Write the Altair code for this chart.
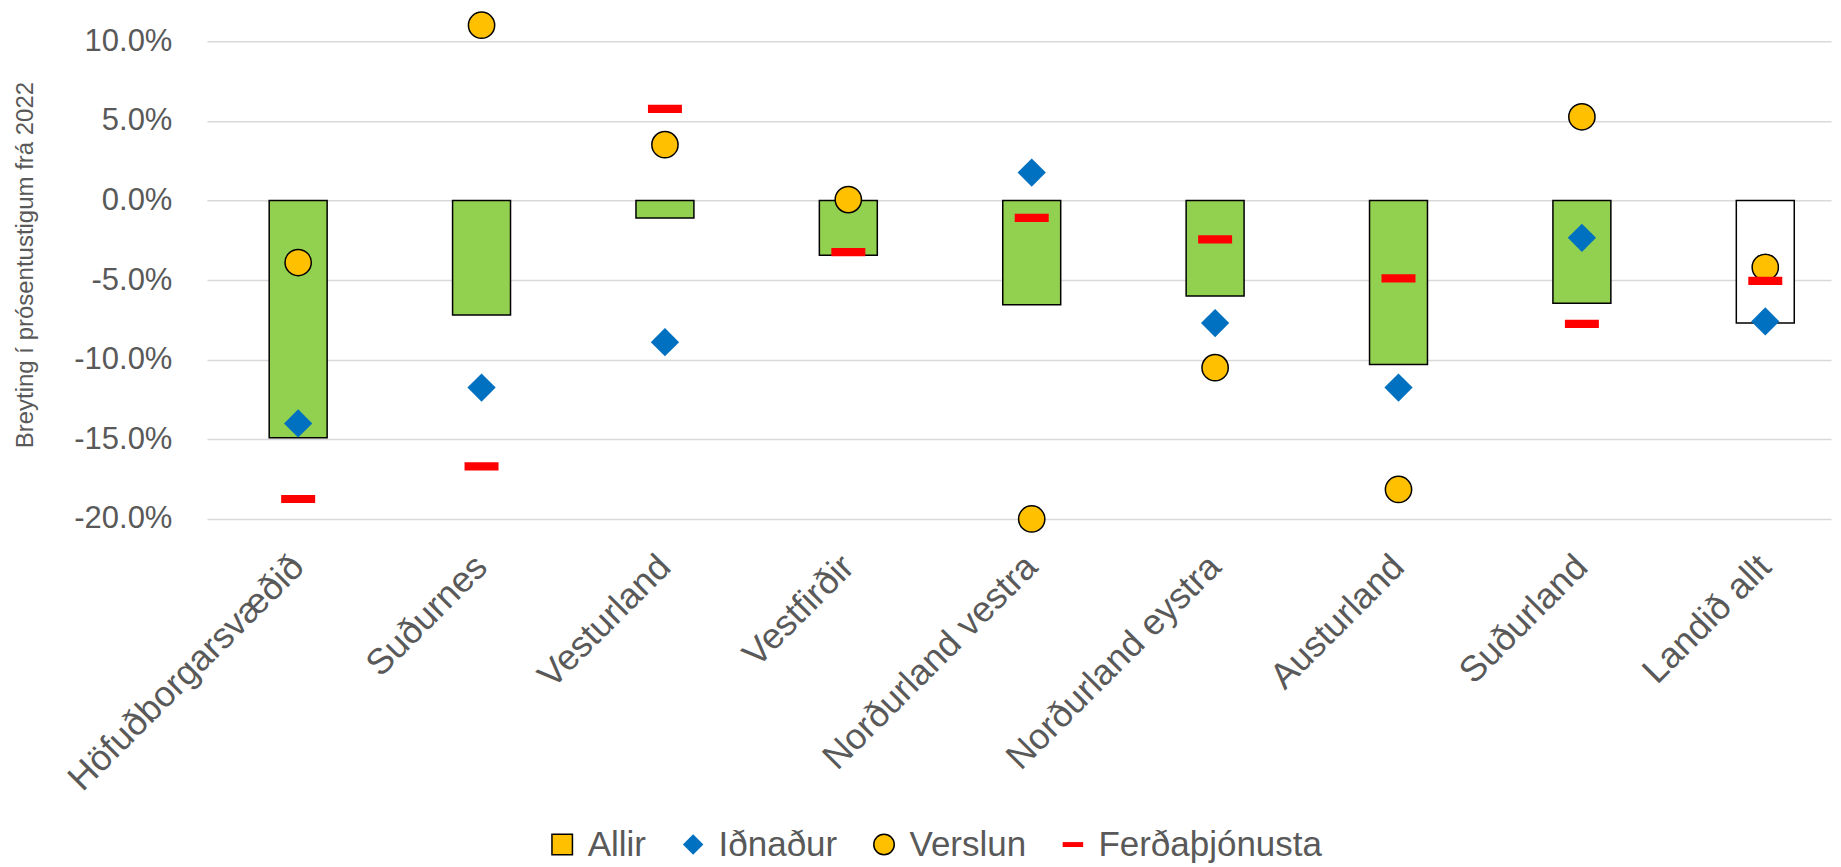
import altair as alt
import pandas as pd

# ---- data ----
regions = ["Höfuðborgarsvæðið", "Suðurnes", "Vesturland", "Vestfirðir",
           "Norðurland vestra", "Norðurland eystra", "Austurland",
           "Suðurland", "Landið allt"]
allir = [-14.9, -7.2, -1.1, -3.45, -6.55, -6.0, -10.3, -6.45, -7.7]
idnadur = [-14.0, -11.75, -8.9, None, 1.75, -7.7, -11.75, -2.35, -7.6]
verslun = [-3.9, 11.0, 3.5, 0.05, -20.0, -10.5, -18.15, 5.25, -4.2]
ferdathjonusta = [-18.75, -16.7, 5.75, -3.25, -1.1, -2.45, -4.9, -7.75, -5.05]

series_names = ["Allir", "Iðnaður", "Verslun", "Ferðaþjónusta"]
series_fill = ["#FFC000", "#0070C0", "#FFC000", "#FF0000"]
series_stroke = ["#000000", "transparent", "#000000", "transparent"]
series_shape = ["square", "diamond", "circle", "M-1,-0.24H1V0.24H-1Z"]
y_ticks = [-20, -15, -10, -5, 0, 5, 10]

bar_df = pd.DataFrame({"Svæði": regions, "Gildi": allir})
rows = []
for name, vals in [("Iðnaður", idnadur), ("Verslun", verslun),
                   ("Ferðaþjónusta", ferdathjonusta)]:
    for r, v in zip(regions, vals):
        if v is not None:
            rows.append({"Svæði": r, "Hópur": name, "Gildi": v})
pt_df = pd.DataFrame(rows)

FONT = "Liberation Sans"
GREY = "#595959"

x_enc = alt.X(
    "Svæði:N", sort=regions,
    scale=alt.Scale(paddingInner=0.684, paddingOuter=0.27, align=0.629),
    axis=alt.Axis(title=None, labelAngle=-45, labelAlign="right",
                  labelBaseline="middle", labelFontSize=36, labelColor=GREY,
                  labelFont=FONT, labelPadding=42, labelLimit=600,
                  labelOverlap=False, domain=False, ticks=False, tickSize=0,
                  grid=False),
)

y_axis = alt.Axis(
    values=y_ticks,
    labelExpr="(datum.value < 0 ? '-' : '') + format(abs(datum.value), '.1f') + '%'",
    grid=True, gridColor="#D9D9D9", gridWidth=1.5, domain=False, ticks=False,
    tickSize=0, labelFontSize=31, labelColor=GREY, labelFont=FONT,
    labelPadding=35, title="Breyting í prósentustigum frá 2022",
    titleFontSize=24, titleFontWeight="normal", titleColor=GREY,
    titleFont=FONT, titleX=-169,
)
y_scale = alt.Scale(domain=[-20, 11.94], nice=False)
y_enc = alt.Y("Gildi:Q", scale=y_scale, axis=y_axis)

legend = alt.Legend(
    title=None, orient="none", legendX=338, legendY=817,
    direction="horizontal", symbolSize=420, symbolStrokeWidth=1.5,
    labelFontSize=35, labelColor=GREY, labelFont=FONT, labelOffset=8,
    labelLimit=600, columnPadding=29, padding=0,
)
fill_enc = alt.Fill("Hópur:N", scale=alt.Scale(domain=series_names, range=series_fill), legend=legend)
stroke_enc = alt.Stroke("Hópur:N", scale=alt.Scale(domain=series_names, range=series_stroke), legend=legend)
shape_enc = alt.Shape("Hópur:N", scale=alt.Scale(domain=series_names, range=series_shape), legend=legend)

bars = alt.Chart(bar_df).mark_bar(stroke="black", strokeWidth=1.5).encode(
    x=x_enc,
    y=y_enc,
    fill=alt.condition(alt.datum["Svæði"] == "Landið allt",
                       alt.value("white"), alt.value("#92D050")),
)


def points(name, size):
    return (
        alt.Chart(pt_df)
        .transform_filter(alt.datum["Hópur"] == name)
        .mark_point(filled=True, opacity=1, strokeWidth=1.5, size=size)
        .encode(x=x_enc, y=y_enc, fill=fill_enc, stroke=stroke_enc, shape=shape_enc)
    )


chart = (
    alt.layer(bars, points("Iðnaður", 800), points("Verslun", 690),
              points("Ferðaþjónusta", 1156))
    .properties(width=1625, height=509,
                padding={"left": 5, "top": 0, "right": 2, "bottom": 0},
                background="white")
    .configure(font=FONT)
    .configure_view(strokeWidth=0, stroke="transparent")
)

chart.save("out.html", embed_options={"renderer": "svg", "actions": False})
